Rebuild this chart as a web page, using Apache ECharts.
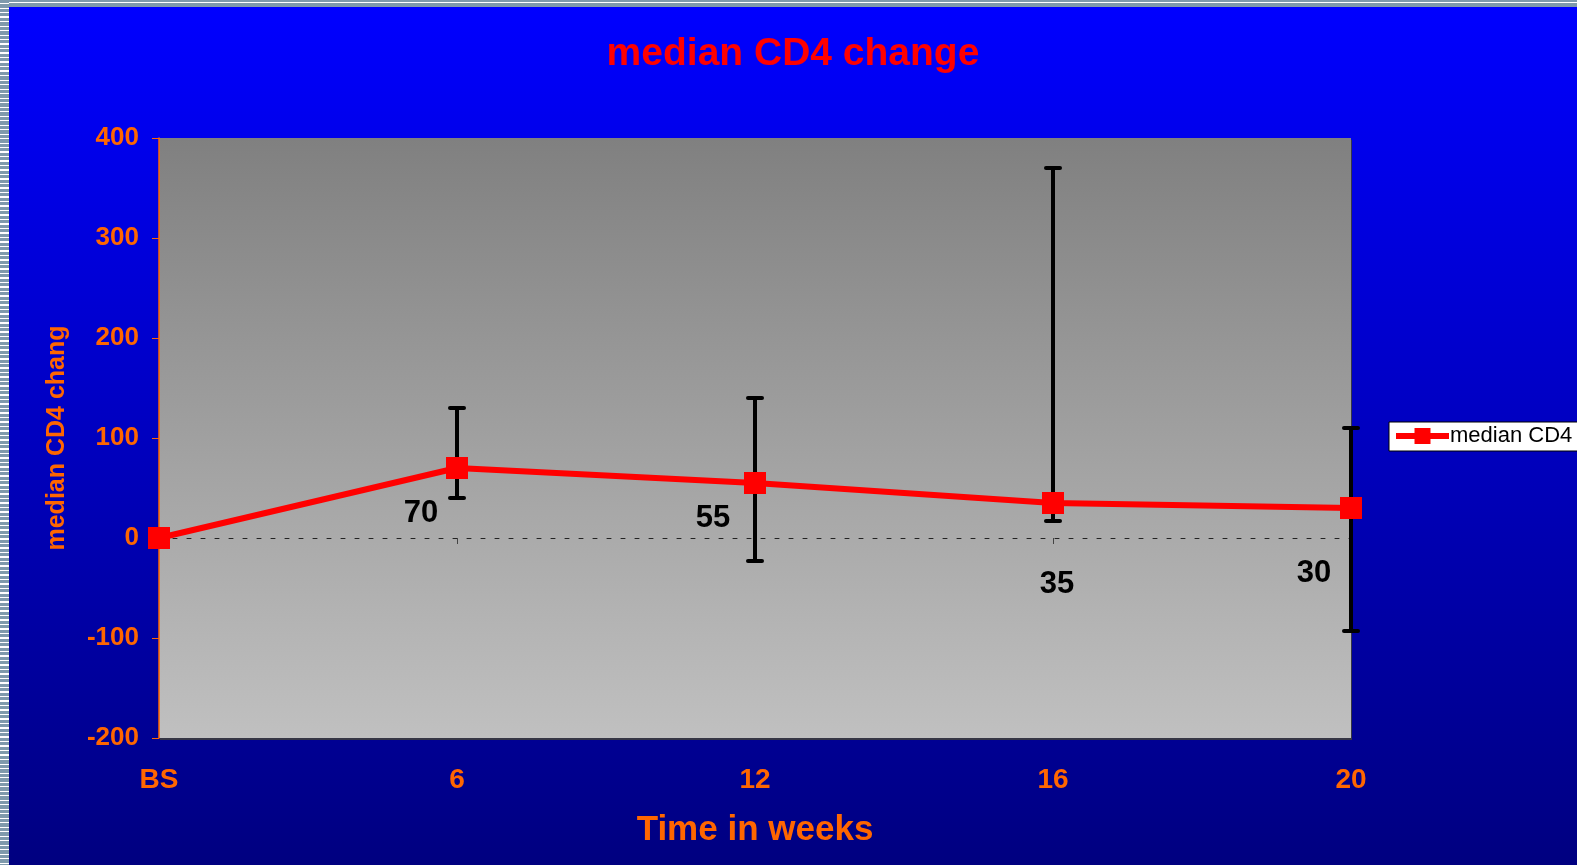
<!DOCTYPE html>
<html>
<head>
<meta charset="utf-8">
<title>median CD4 change</title>
<script src="https://cdn.jsdelivr.net/npm/echarts@6/dist/echarts.min.js"></script>
<style>
  html, body { margin: 0; padding: 0; width: 1577px; height: 865px; overflow: hidden; }
  body {
    position: relative;
    background: repeating-linear-gradient(to bottom, #7f9aac 0px, #7f9aac 3px, #ffffff 3px, #ffffff 4.5px);
  }
  #topband {
    position: absolute; left: 9px; top: 0; width: 1568px; height: 7px;
    background: linear-gradient(to bottom, #7f9aac 0px, #7f9aac 2px, #ffffff 2px, #ffffff 3px, #7f9aac 3px, #7f9aac 7px);
  }
  #chart { position: absolute; left: 9px; top: 7px; width: 1568px; height: 858px; }
</style>
</head>
<body>
<div id="topband"></div>
<div id="chart"></div>
<script>
// Time points (weeks) and median CD4 change, with the range drawn as error bars
const categories = ['BS', '6', '12', '16', '20'];
const medianChange = [0, 70, 55, 35, 30];
const rangeLow = [null, 40, -23, 17, -93];
const rangeHigh = [null, 130, 140, 370, 110];
const yMin = -200, yMax = 400, yStep = 100;

// Where each value label sits relative to its marker
const labelOffsets = [null, [-36, 45], [-42, 35], [4, 81], [-37, 65]];

const FONT = "'Liberation Sans', Arial, sans-serif";
const ORANGE = '#FF6600';

const chart = echarts.init(document.getElementById('chart'), null, { renderer: 'canvas' });

const lineData = medianChange.map((v, i) => {
  const item = { value: v };
  if (labelOffsets[i]) {
    item.label = { show: true, position: 'inside', offset: labelOffsets[i] };
  } else {
    item.label = { show: false };
  }
  return item;
});

const barData = [];
categories.forEach((c, i) => {
  if (rangeLow[i] !== null && rangeHigh[i] !== null) barData.push([i, rangeLow[i], rangeHigh[i]]);
});

const option = {
  backgroundColor: {
    type: 'linear', x: 0, y: 0, x2: 0, y2: 1,
    colorStops: [{ offset: 0, color: '#0000FF' }, { offset: 1, color: '#000080' }]
  },
  animation: false,
  title: {
    text: 'median CD4 change',
    left: 'center',
    top: 28,
    padding: 0,
    textStyle: { color: '#FF0000', fontSize: 39, fontWeight: 'bold', fontFamily: FONT }
  },
  legend: {
    data: ['median CD4'],
    left: 1380,
    top: 415,
    orient: 'vertical',
    backgroundColor: '#FFFFFF',
    borderColor: '#000000',
    borderWidth: 1,
    borderRadius: 0,
    padding: [3, 14, 4, 4],
    itemWidth: 53,
    itemHeight: 20,
    itemGap: 2,
    lineStyle: { width: 6, color: '#FF0000' },
    textStyle: { color: '#000000', fontSize: 22, fontFamily: FONT, padding: [0, 0, 0, -4] }
  },
  grid: {
    left: 150, top: 131, width: 1192, height: 600,
    show: true,
    borderWidth: 0,
    backgroundColor: {
      type: 'linear', x: 0, y: 0, x2: 0, y2: 1,
      colorStops: [{ offset: 0, color: '#808080' }, { offset: 1, color: '#C0C0C0' }]
    },
    shadowColor: 'rgba(60,60,60,0.9)',
    shadowOffsetY: 2,
    shadowOffsetX: 1,
    shadowBlur: 0
  },
  xAxis: [
    {
      // bottom axis carrying the week labels and the axis title
      type: 'category',
      data: categories,
      boundaryGap: false,
      position: 'bottom',
      axisLine: { show: false, onZero: false },
      axisTick: { show: false },
      axisLabel: { color: ORANGE, fontSize: 28, fontWeight: 'bold', fontFamily: FONT, margin: 28 },
      name: 'Time in weeks',
      nameLocation: 'middle',
      nameGap: 75,
      nameTextStyle: { color: ORANGE, fontSize: 35, fontWeight: 'bold', fontFamily: FONT }
    },
    {
      // dotted crossing line at zero
      type: 'category',
      data: categories,
      boundaryGap: false,
      position: 'bottom',
      axisLine: { show: true, onZero: true, lineStyle: { color: '#222222', width: 1, type: [4, 10] } },
      axisTick: { show: true, length: 6, lineStyle: { color: '#444444', width: 1 } },
      axisLabel: { show: false }
    }
  ],
  yAxis: {
    type: 'value',
    min: yMin, max: yMax, interval: yStep,
    axisLine: { show: true, onZero: false, lineStyle: { color: ORANGE, width: 1.5 } },
    axisTick: { show: true, length: 7, lineStyle: { color: ORANGE, width: 1 } },
    axisLabel: { color: ORANGE, fontSize: 26, fontWeight: 'bold', fontFamily: FONT, margin: 20 },
    splitLine: { show: false },
    name: 'median CD4 change',
    nameLocation: 'middle',
    nameGap: 89,
    nameRotate: 90,
    nameTruncate: { maxWidth: 229, ellipsis: '' },
    nameTextStyle: { color: ORANGE, fontSize: 25, fontWeight: 'bold', fontFamily: FONT }
  },
  series: [
    {
      name: 'range',
      type: 'custom',
      xAxisIndex: 0,
      z: 2,
      clip: false,
      data: barData,
      renderItem: function (params, api) {
        const x = api.value(0);
        const lo = api.coord([x, api.value(1)]);
        const hi = api.coord([x, api.value(2)]);
        const half = 7;
        const style = { stroke: '#000000', lineWidth: 4, lineCap: 'round' };
        return {
          type: 'group',
          children: [
            { type: 'line', shape: { x1: lo[0], y1: lo[1], x2: hi[0], y2: hi[1] }, style: { stroke: '#000000', lineWidth: 4 } },
            { type: 'line', shape: { x1: hi[0] - half, y1: hi[1], x2: hi[0] + half, y2: hi[1] }, style: style },
            { type: 'line', shape: { x1: lo[0] - half, y1: lo[1], x2: lo[0] + half, y2: lo[1] }, style: style }
          ]
        };
      }
    },
    {
      name: 'median CD4',
      type: 'line',
      xAxisIndex: 0,
      z: 3,
      clip: false,
      data: lineData,
      symbol: 'rect',
      symbolSize: 22,
      itemStyle: { color: '#FF0000' },
      lineStyle: { color: '#FF0000', width: 6 },
      label: {
        color: '#000000', fontSize: 31, fontWeight: 'bold', fontFamily: FONT,
        formatter: '{c}'
      }
    }
  ]
};

chart.setOption(option);
</script>
</body>
</html>
